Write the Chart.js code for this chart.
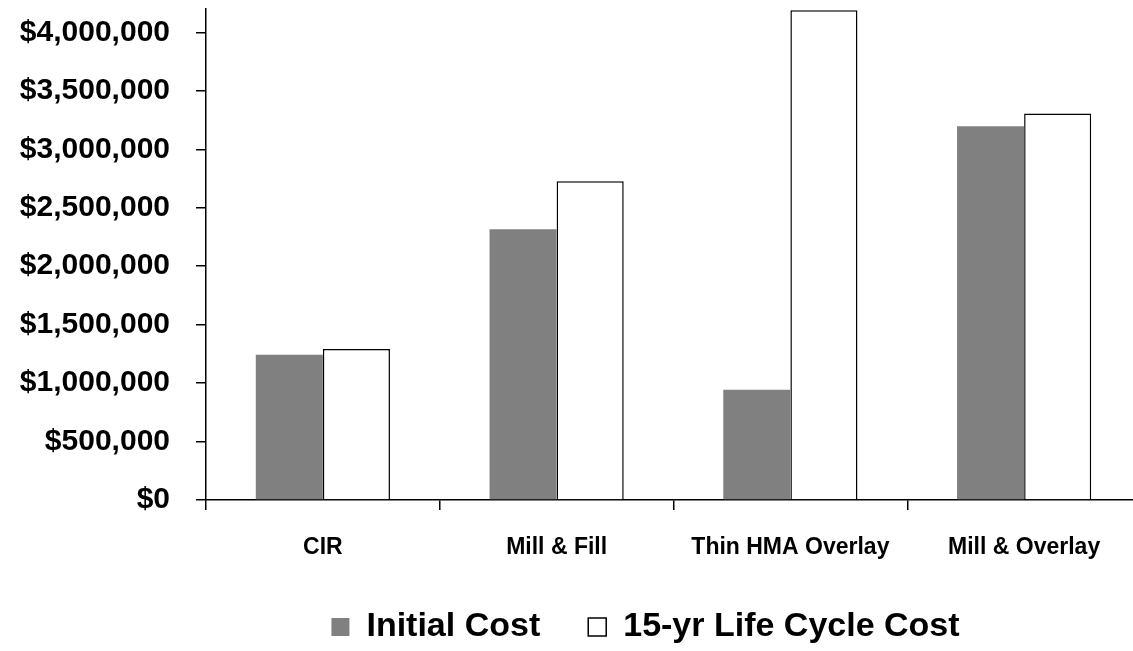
<!DOCTYPE html>
<html>
<head>
<meta charset="utf-8">
<script src="https://cdn.jsdelivr.net/npm/chart.js@4/dist/chart.umd.min.js"></script>
<style>
  html, body { margin: 0; padding: 0; background: #fff; overflow: hidden; }
  #wrap { width: 1141px; height: 651px; }
</style>
</head>
<body>
<div id="wrap"><canvas id="chart"></canvas></div>
<script>
// Pavement treatment costs
const categories = ['CIR', 'Mill & Fill', 'Thin HMA Overlay', 'Mill & Overlay'];
const initialCost = [1243000, 2316000, 943000, 3198000];
const lifeCycleCost = [1291000, 2727000, 4190000, 3306000];
const yTicks = [0, 500000, 1000000, 1500000, 2000000, 2500000, 3000000, 3500000, 4000000];
const yMax = 4200000;

const FONT = '"Liberation Sans", Arial, sans-serif';

// Legend keeps wide item spacing but reports a shorter box to the layout,
// and sits a little right of the canvas centre like the original
const legendFit = {
  id: 'legendFit',
  beforeInit(chart) {
    const fit = chart.legend.fit;
    chart.legend.fit = function () {
      fit.call(this);
      this.height = 89;
      if (this.lineWidths && this.lineWidths.length) {
        this.lineWidths[0] -= 150;
      }
    };
  }
};

const ctx = document.getElementById('chart').getContext('2d');
new Chart(ctx, {
  type: 'bar',
  data: {
    labels: categories,
    datasets: [
      {
        label: 'Initial Cost',
        data: initialCost,
        backgroundColor: '#808080',
        borderColor: '#808080',
        borderWidth: 0,
        categoryPercentage: 0.574,
        barPercentage: 1.0
      },
      {
        label: '15-yr Life Cycle Cost',
        data: lifeCycleCost,
        backgroundColor: '#ffffff',
        borderColor: '#000000',
        borderWidth: 1.5,
        categoryPercentage: 0.574,
        barPercentage: 1.0
      }
    ]
  },
  options: {
    responsive: true,
    maintainAspectRatio: false,
    animation: false,
    layout: { padding: { top: 9, left: 0, right: 0, bottom: 0 } },
    plugins: {
      tooltip: { enabled: false },
      legend: {
        position: 'bottom',
        labels: {
          color: '#000',
          boxWidth: 18,
          boxHeight: 18,
          padding: 48,
          font: { family: FONT, size: 34, weight: 'bold' }
        }
      }
    },
    scales: {
      x: {
        offset: true,
        grid: {
          offset: true,
          drawOnChartArea: false,
          drawTicks: true,
          tickLength: 10,
          color: '#000',
          lineWidth: 1.5
        },
        border: { display: true, color: '#000', width: 1.5 },
        ticks: {
          color: '#000',
          padding: 24,
          autoSkip: false,
          maxRotation: 0,
          font: { family: FONT, size: 23, weight: 'bold' }
        },
        afterFit(scale) {
          scale.height = 62;
          scale.paddingLeft = 0;
          scale.paddingRight = 0;
        }
      },
      y: {
        min: 0,
        max: yMax,
        grid: {
          drawOnChartArea: false,
          drawTicks: true,
          tickLength: 10,
          color: '#000',
          lineWidth: 1.5
        },
        border: { display: true, color: '#000', width: 1.5 },
        ticks: {
          color: '#000',
          padding: 26,
          font: { family: FONT, size: 30, weight: 'bold' },
          callback: (v) => '$' + v.toLocaleString('en-US')
        },
        afterBuildTicks(scale) {
          scale.ticks = yTicks.map(v => ({ value: v }));
        },
        afterFit(scale) {
          scale.width = 206;
          scale.paddingTop = 0;
          scale.paddingBottom = 0;
        }
      }
    }
  },
  plugins: [legendFit]
});
</script>
</body>
</html>
